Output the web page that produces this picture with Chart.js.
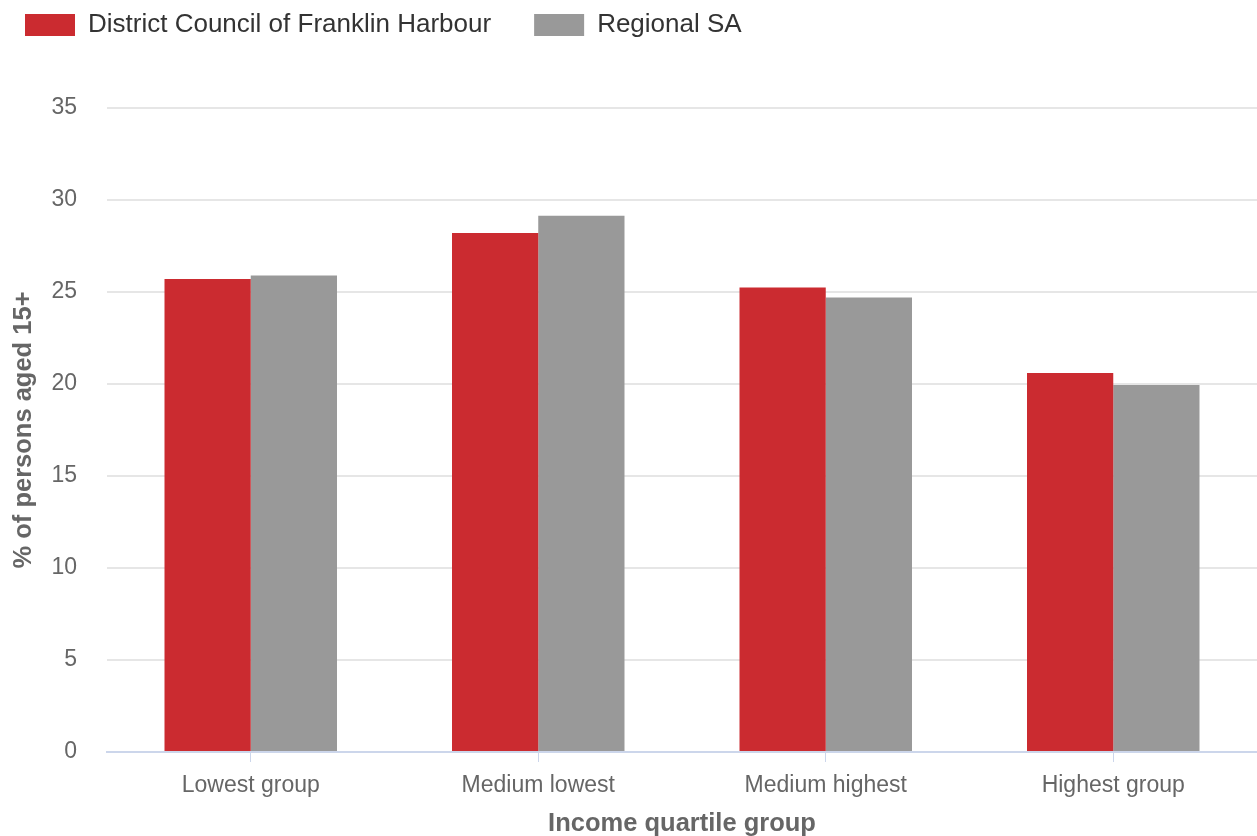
<!DOCTYPE html>
<html>
<head>
<meta charset="utf-8">
<script src="https://cdn.jsdelivr.net/npm/chart.js@4/dist/chart.umd.min.js"></script>
<style>
  html, body { margin: 0; padding: 0; background: #fff; }
  #wrap { width: 1257px; height: 836px; position: relative; }
</style>
</head>
<body>
<div id="wrap"><canvas id="chart"></canvas></div>
<script>
// data
const categories = ['Lowest group', 'Medium lowest', 'Medium highest', 'Highest group'];
const franklinHarbour = [25.7, 28.2, 25.25, 20.6];
const regionalSA = [25.9, 29.15, 24.7, 19.95];
const yTicks = [0, 5, 10, 15, 20, 25, 30, 35];

const FONT = "'Liberation Sans', Arial, sans-serif";

// extra room under the legend, and nudge the legend up/left
const legendTweak = {
  id: 'legendTweak',
  beforeInit(chart) {
    const fit = chart.legend.fit;
    chart.legend.fit = function () {
      fit.bind(chart.legend)();
      this.height += 29;
    };
  },
  afterLayout(chart) {
    const lg = chart.legend;
    lg.left -= 18;
    lg.right -= 18;
    lg.top -= 31;
    lg.bottom -= 31;
  }
};

new Chart(document.getElementById('chart'), {
  type: 'bar',
  data: {
    labels: categories,
    datasets: [
      { label: 'District Council of Franklin Harbour', data: franklinHarbour, backgroundColor: '#cb2b30', borderWidth: 0 },
      { label: 'Regional SA', data: regionalSA, backgroundColor: '#999999', borderWidth: 0 }
    ]
  },
  options: {
    responsive: true,
    maintainAspectRatio: false,
    animation: false,
    categoryPercentage: 0.6,
    barPercentage: 1.0,
    layout: { padding: 0 },
    plugins: {
      tooltip: { enabled: false },
      legend: {
        position: 'top',
        align: 'start',
        labels: {
          boxWidth: 50,
          boxHeight: 22,
          padding: 43,
          color: '#333333',
          font: { family: FONT, size: 26 }
        }
      }
    },
    scales: {
      x: {
        afterFit(axis) { axis.height = 84; },
        grid: {
          offset: false,
          drawOnChartArea: false,
          drawTicks: true,
          tickLength: 10,
          color: '#ccd6eb'
        },
        border: { color: '#ccd6eb', width: 2 },
        ticks: { color: '#666666', padding: 10, font: { family: FONT, size: 23 } },
        title: {
          display: true,
          text: 'Income quartile group',
          color: '#666666',
          padding: { top: 6, bottom: -3 },
          font: { family: FONT, size: 25.5, weight: 'bold' }
        }
      },
      y: {
        min: 0,
        max: 35,
        afterFit(axis) { axis.width = 107; },
        afterBuildTicks(axis) { axis.ticks = yTicks.map(v => ({ value: v })); },
        grid: { color: '#e6e6e6', lineWidth: 2, drawTicks: false },
        border: { display: false },
        ticks: { color: '#666666', padding: 30, font: { family: FONT, size: 23 } },
        title: {
          display: true,
          text: '% of persons aged 15+',
          color: '#666666',
          padding: { top: 9, bottom: 0 },
          font: { family: FONT, size: 25.5, weight: 'bold' }
        }
      }
    }
  },
  plugins: [legendTweak]
});
</script>
</body>
</html>
